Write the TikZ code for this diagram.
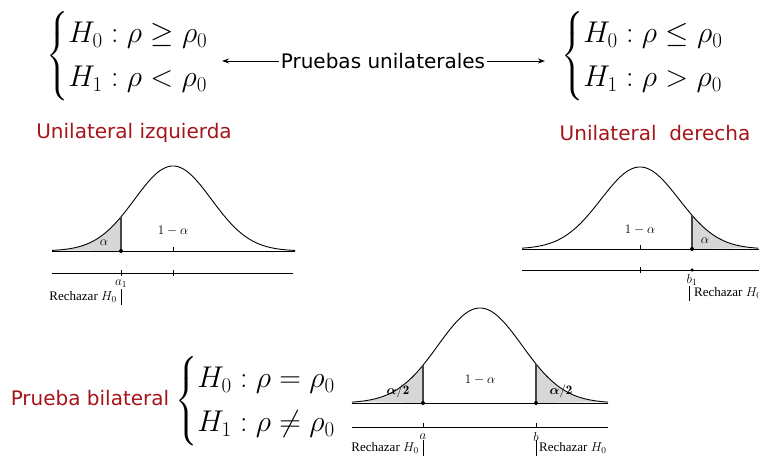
\RequirePackage{fix-cm}
\documentclass[tikz,border=0pt]{standalone}
\usepackage{amsmath}
\usepackage{fontspec}
\newfontfamily\sansf{DejaVu Sans}
\newfontfamily\serf{Liberation Serif}
\usetikzlibrary{arrows.meta}
\definecolor{redlab}{RGB}{165,20,25}
\definecolor{tailgray}{RGB}{215,215,215}
\definecolor{cutgray}{RGB}{70,70,70}
\tikzset{
  formula/.style={inner sep=0pt, font=\fontsize{30}{34}\selectfont},
  title/.style={inner sep=2pt, font=\sansf\fontsize{20}{24}\selectfont},
  redtitle/.style={title, text=redlab},
  small/.style={inner sep=1pt, font=\serf\fontsize{13}{15}\selectfont},
  curve/.style={line width=0.9pt},
  axis/.style={line width=0.9pt},
  cutline/.style={line width=1.4pt, cutgray},
  tail/.style={fill=tailgray},
  arr/.style={line width=0.9pt, -{Stealth[length=7pt,width=5pt]}},
  dot/.style={circle, fill=black, inner sep=0pt, minimum size=4pt},
  tick/.style={line width=0.8pt},
}
\newcommand{\hyp}[2]{$\left\{\renewcommand{\arraystretch}{1.3}\begin{array}{@{}l@{}} #1\\ #2\end{array}\right.$}
\begin{document}
\begin{tikzpicture}[x=1pt,y=-1pt]
\useasboundingbox (0,0) rectangle (759,462);

% ---------- top formulas ----------
\node[formula, anchor=west] (lf) at (46,56) {\hyp{H_0:\rho\geq\rho_0}{H_1:\rho<\rho_0}};
\node[formula, anchor=west] (rf) at (561,56) {\hyp{H_0:\rho\leq\rho_0}{H_1:\rho>\rho_0}};
\node[title] (pu) at (383,61) {Pruebas unilaterales};
\coordinate (lt) at (222,61);
\coordinate (rt) at (545,61);
\draw[arr] (pu.west) -- (lt);
\draw[arr] (pu.east) -- (rt);

\node[redtitle] (ui) at (134,133) {Unilateral izquierda};
\node[redtitle] (ud) at (655,133) {Unilateral\ \ derecha};

% ---------- left curve ----------
\fill[tail] plot[domain=-3.14:-1.35,samples=60] ({173+38.5*\x},{251-85*exp(-\x*\x/2)}) -- (121,251) -- cycle;
\draw[curve] plot[domain=-3.14:3.17,samples=150] ({173+38.5*\x},{251-85*exp(-\x*\x/2)});
\coordinate (L0) at (52,251);
\coordinate (L1) at (295,251);
\coordinate (Lc) at (121,251);
\coordinate (Lct) at (121,{251-85*exp(-1.35*1.35/2)});
\draw[axis] (L0) -- (L1);
\draw[cutline] (Lc) -- (Lct);
\node[dot] (Ld) at (Lc) {};
\draw[tick] (173,247) -- (173,251);
\coordinate (LA0) at (52,273);
\coordinate (LA1) at (293,273);
\draw[axis] (LA0) -- (LA1);
\draw[tick] (121,270) -- (121,276);
\draw[tick] (173,270) -- (173,276);
\node[small] (la1) at (121,284) {$a_1$};
\node[small] (lal) at (104,243) {$\alpha$};
\node[small] (l1a) at (173,231) {$1-\alpha$};
\node[small, anchor=east] (lrh) at (118,297) {Rechazar $H_0$};
\draw[tick] (121,289) -- (121,305);

% ---------- right curve ----------
\fill[tail] plot[domain=1.333:3.03,samples=60] ({640+39*\x},{249-82*exp(-\x*\x/2)}) -- (692,249) -- cycle;
\draw[curve] plot[domain=-3.03:3.03,samples=150] ({640+39*\x},{249-82*exp(-\x*\x/2)});
\coordinate (R0) at (522,249);
\coordinate (R1) at (759,249);
\coordinate (Rc) at (692,249);
\coordinate (Rct) at (692,{249-82*exp(-1.333*1.333/2)});
\draw[axis] (R0) -- (R1);
\draw[cutline] (Rc) -- (Rct);
\node[dot] (Rd) at (Rc) {};
\draw[tick] (640,245) -- (640,249);
\coordinate (RA0) at (522,270);
\coordinate (RA1) at (759,270);
\draw[axis] (RA0) -- (RA1);
\draw[tick] (640,267) -- (640,273);
\node[dot, minimum size=3.5pt] (Rd2) at (692,270) {};
\node[small] (rb1) at (692,280) {$b_1$};
\node[small, anchor=west] (rrh) at (693,293) {Rechazar $H_0$};
\node[small] (ral) at (705,241) {$\alpha$};
\node[small] (r1a) at (640,230) {$1-\alpha$};
\draw[tick] (689,286) -- (689,301);

% ---------- bottom ----------
\node[redtitle] (pb) at (90,398) {Prueba bilateral};
\node[formula, anchor=west] (bf) at (175,401) {\hyp{H_0:\rho=\rho_0}{H_1:\rho\neq\rho_0}};

\fill[tail] plot[domain=-3.05:-1.357,samples=60] ({480+42*\x},{403-95*exp(-\x*\x/2)}) -- (423,403) -- cycle;
\fill[tail] plot[domain=1.333:3.05,samples=60] ({480+42*\x},{403-95*exp(-\x*\x/2)}) -- (536,403) -- cycle;
\draw[curve] plot[domain=-3.05:3.05,samples=150] ({480+42*\x},{403-95*exp(-\x*\x/2)});
\coordinate (B0) at (352,403);
\coordinate (B1) at (608,403);
\coordinate (Ba) at (423,403);
\coordinate (Bb) at (536,403);
\coordinate (Bat) at (423,{403-95*exp(-1.357*1.357/2)});
\coordinate (Bbt) at (536,{403-95*exp(-1.333*1.333/2)});
\draw[axis] (B0) -- (B1);
\draw[cutline] (Ba) -- (Bat);
\draw[cutline] (Bb) -- (Bbt);
\node[dot] (Bad) at (Ba) {};
\node[dot] (Bbd) at (Bb) {};
\coordinate (BA0) at (352,427);
\coordinate (BA1) at (608,427);
\draw[axis] (BA0) -- (BA1);
\draw[tick] (423,423) -- (423,427);
\draw[tick] (536,423) -- (536,427);
\node[small] (ba) at (423,437) {$a$};
\node[small] (bb) at (536,437) {$b$};
\node[small] (b1a) at (480,380) {$1-\alpha$};
\node[small] (bl2) at (398,391) {$\boldsymbol{\alpha}/\mathbf{2}$};
\node[small] (br2) at (561,391) {$\boldsymbol{\alpha}/\mathbf{2}$};
\node[small, anchor=east] (brl) at (420,448) {Rechazar $H_0$};
\draw[tick] (423,440) -- (423,456);
\draw[tick] (536,440) -- (536,456);
\node[small, anchor=west] (brr) at (538,448) {Rechazar $H_0$};
\end{tikzpicture}
\end{document}
